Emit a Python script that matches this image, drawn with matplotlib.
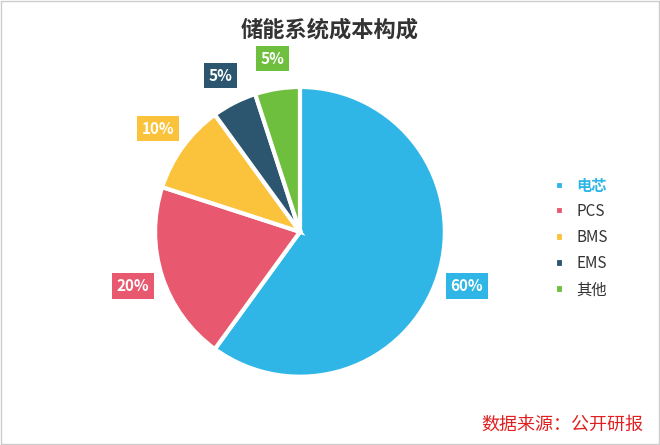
import matplotlib
matplotlib.use("Agg")
import matplotlib.pyplot as plt
from matplotlib.patches import Rectangle

plt.rcParams['font.family'] = ['Noto Sans CJK SC', 'DejaVu Sans']

categories = ['电芯', 'PCS', 'BMS', 'EMS', '其他']
values = [60, 20, 10, 5, 5]
colors = ['#2fb6e6', '#e8586f', '#fbc23b', '#2c566f', '#6fbf3e']

fig = plt.figure(figsize=(6.6, 4.45), dpi=100)
fig.patches.append(Rectangle((0.002, 0.003), 0.996, 0.994, transform=fig.transFigure,
                             fill=False, edgecolor='#cccccc', linewidth=1))
ax = fig.add_axes([0.235, 0.153, 0.439, 0.652])
wedges, texts, autotexts = ax.pie(values, colors=colors, startangle=90, counterclock=False,
                                  autopct='%d%%', pctdistance=1.21,
                                  wedgeprops=dict(edgecolor='white', linewidth=3))
for at, c in zip(autotexts, colors):
    at.set_color('white')
    at.set_fontweight('bold')
    at.set_fontsize(11)
    at.set_bbox(dict(boxstyle='square,pad=0.3', facecolor=c, edgecolor='none'))
ax.set_xlim(-1, 1)
ax.set_ylim(-1, 1)
ax.set_aspect('equal')

fig.text(0.5, 0.933, '储能系统成本构成', ha='center', va='center', fontsize=16,
         fontweight='bold', color='#333333')

leg = fig.legend(wedges, categories, loc='center left', bbox_to_anchor=(0.82, 0.465),
                 frameon=False, handlelength=0.6, handleheight=0.6, fontsize=11,
                 labelspacing=0.6, handletextpad=0.8)
for i, t in enumerate(leg.get_texts()):
    t.set_color('#2fb6e6' if i == 0 else '#333333')
    if i == 0:
        t.set_fontweight('bold')

fig.text(0.975, 0.045, '数据来源：公开研报', ha='right', va='center', fontsize=13,
         color='#e02020')

fig.savefig('out.png', dpi=100)
